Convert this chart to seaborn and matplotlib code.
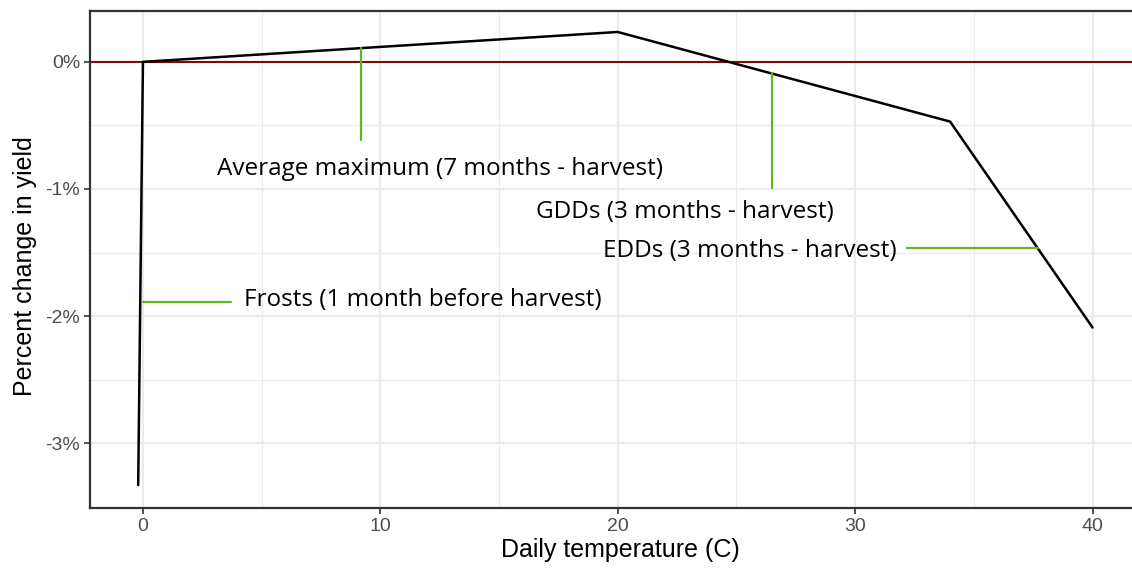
import numpy as np
import pandas as pd
import matplotlib
matplotlib.use("Agg")
import matplotlib.pyplot as plt
import seaborn as sns
from matplotlib.ticker import FuncFormatter, MultipleLocator

# ---- data ----
temperature = [-0.2, 0.0, 20.0, 34.0, 40.0]
yield_change = [-3.33, 0.0, 0.235, -0.47, -2.09]

seg_x0 = [9.2, 26.5, 32.2, 0.0]
seg_x1 = [9.2, 26.5, 37.7, 3.7]
seg_y0 = [0.108, -0.09, -1.465, -1.89]
seg_y1 = [-0.615, -0.99, -1.465, -1.89]

label_text = ["Average maximum (7 months - harvest)",
              "GDDs (3 months - harvest)",
              "EDDs (3 months - harvest)",
              "Frosts (1 month before harvest)"]
label_x = [12.52, 22.83, 25.57, 11.80]
label_y = [-0.845, -1.18, -1.485, -1.875]

x_ticks = [0, 10, 20, 30, 40]
y_ticks = [-3, -2, -1, 0]

sns.set_theme(style="white")
plt.rcParams['font.family'] = ['Liberation Sans', 'DejaVu Sans']

fig = plt.figure(figsize=(11.32, 5.69), dpi=100)
ax = fig.add_axes([90/1132, (569-508)/569, (1140-90)/1132, (508-11)/569])

df = pd.DataFrame({"temp": temperature, "change": yield_change})

# grid
ax.set_axisbelow(True)
ax.xaxis.set_major_locator(MultipleLocator(10))
ax.xaxis.set_minor_locator(MultipleLocator(5))
ax.yaxis.set_major_locator(MultipleLocator(1))
ax.yaxis.set_minor_locator(MultipleLocator(0.5))
ax.grid(which='major', color='#EBEBEB', linewidth=1.6)
ax.grid(which='minor', color='#EBEBEB', linewidth=0.9)

ax.axhline(0, color='#7A0C0C', linewidth=1.5, zorder=2)

sns.lineplot(data=df, x="temp", y="change", sort=False, color='black',
             linewidth=1.8, ax=ax, zorder=3)

for x0, x1, y0, y1 in zip(seg_x0, seg_x1, seg_y0, seg_y1):
    ax.plot([x0, x1], [y0, y1], color='#63B521', linewidth=1.6, zorder=4)

for t, x, y in zip(label_text, label_x, label_y):
    ax.text(x, y, t, ha='center', va='center', fontsize=17.5,
            family=['Open Sans', 'DejaVu Sans'], color='black', zorder=5)

ax.set_xlim(-2.23, 42.0)
ax.set_ylim(-3.51, 0.40)
ax.set_xticks(x_ticks)
ax.set_yticks(y_ticks)
ax.yaxis.set_major_formatter(FuncFormatter(lambda v, p: f"{int(round(v))}%"))

ax.tick_params(axis='both', which='major', length=4, width=1.2, color='#333333',
               labelsize=14, labelcolor='#4D4D4D', pad=3, bottom=True, left=True)
ax.tick_params(which='minor', length=0)

for s in ax.spines.values():
    s.set_color('#333333')
    s.set_linewidth(1.6)

ax.set_xlabel("Daily temperature (C)", fontsize=18, color='black')
ax.set_ylabel("Percent change in yield", fontsize=18, color='black')
ax.xaxis.label.set_va('center')
ax.yaxis.label.set_va('center')
ax.xaxis.set_label_coords(0.505, (508-550)/497)
ax.yaxis.set_label_coords((25-90)/1050, (508-266)/497)

fig.savefig("out.png", dpi=100)
